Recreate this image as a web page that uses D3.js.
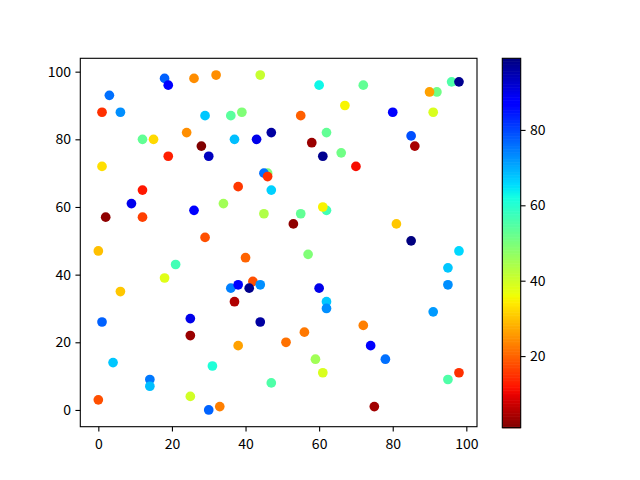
<!DOCTYPE html>
<html><head><meta charset="utf-8">
<script src="https://cdn.jsdelivr.net/npm/d3@7"></script>
<style>body{margin:0;background:#fff}svg text{font-family:"Noto Sans CJK SC","DejaVu Sans",sans-serif;font-size:14px;fill:#000}</style>
</head><body><svg id="c" width="640" height="480"></svg>
<script>
const xs = [18,19,26,32,3,6,1,29,24,12,15,19,28,30,1,12,9,2,12,26,29,
44,60,67,36,39,55,37,43,47,62,58,61,66,46,45,46,47,38,34,45,55,53,62,61,
72,96,98,92,90,80,91,85,86,70,81,85,
0,21,18,6,1,25,25,4,14,14,31,0,25,33,30,
40,57,42,36,38,41,44,37,44,60,62,62,56,51,38,59,61,47,
98,95,95,91,72,74,78,98,95,75];
const ys = [98,96,98,99,93,88,88,87,82,80,80,75,78,75,72,65,61,57,57,59,51,
99,96,90,87,88,87,80,80,82,82,79,75,76,70,70,69,65,66,61,58,58,55,59,60,
96,97,97,94,94,88,88,81,78,72,55,50,
47,43,39,35,26,27,22,14,9,7,13,3,4,1,0,
45,46,38,36,37,36,37,32,26,36,32,30,23,20,19,15,11,8,
47,42,37,29,25,19,15,11,9,1];
const cs = [77.4,87,24.4,24.6,76,73,14.8,67.6,24.6,53.1,32.3,13,1,93.6,33,12.2,89.7,2.3,16.4,87,18,
41,62.9,35.2,54,49.5,19.7,68.4,90,96.2,53,3.2,97.7,51.3,49.5,76,14.8,66.7,15.6,45.5,43.7,53,2.3,57,35,
53,55.3,97.7,51.3,26.5,87,38.9,79.2,4.4,11.1,30.5,99,
29.7,57,38,30.5,77.4,90,3.2,67.6,75.2,68.4,61,18,39.8,23,77.2,
20.1,49.5,18,74.5,87,98,73,5.1,96.2,90,67.6,73,22.3,21.5,26.5,45.5,38.9,55.3,
66,67.6,73,72,23,87,76,14.8,55.3,3.8];
const xTicks = [0,20,40,60,80,100];
const yTicks = [0,20,40,60,80,100];
const cTicks = [20,40,60,80];

// matplotlib jet, reversed
function seg(pts, t){for(let i=1;i<pts.length;i++){if(t<=pts[i][0]){const a=pts[i-1],b=pts[i];return a[1]+(b[1]-a[1])*(t-a[0])/(b[0]-a[0]);}}return pts[pts.length-1][1];}
const R=[[0,0],[0.35,0],[0.66,1],[0.89,1],[1,0.5]];
const G=[[0,0],[0.125,0],[0.375,1],[0.64,1],[0.91,0],[1,0]];
const B=[[0,0.5],[0.11,1],[0.34,1],[0.65,0],[1,0]];
function jetR(t){const s=1-Math.max(0,Math.min(1,t));return d3.rgb(255*seg(R,s),255*seg(G,s),255*seg(B,s)).toString();}

const svg=d3.select("#c");
const L=80.3,Rr=477,T=58.3,Bt=426.7;
const x=d3.scaleLinear().domain([-4.9,102.9]).range([L,Rr]);
const y=d3.scaleLinear().domain([-4.95,103.95]).range([Bt,T]);
const ext=d3.extent(cs);
const cn=d3.scaleLinear().domain(ext).range([0,1]);

const g=svg.append("g");
g.selectAll("circle").data(xs.map((v,i)=>({x:v,y:ys[i],c:cs[i]}))).join("circle")
 .attr("cx",d=>x(d.x)).attr("cy",d=>y(d.y)).attr("r",4.85)
 .attr("fill",d=>jetR(cn(d.c)));

svg.append("rect").attr("x",L).attr("y",T).attr("width",Rr-L).attr("height",Bt-T)
 .attr("fill","none").attr("stroke","#000").attr("stroke-width",1.1);

const xa=svg.append("g").attr("transform",`translate(0,${Bt})`)
 .call(d3.axisBottom(x).tickValues(xTicks).tickSize(4.86).tickPadding(4.5).tickFormat(d3.format("d")));
const ya=svg.append("g").attr("transform",`translate(${L},0)`)
 .call(d3.axisLeft(y).tickValues(yTicks).tickSize(4.86).tickPadding(4.5).tickFormat(d3.format("d")));
[xa,ya].forEach(a=>{a.select(".domain").remove();a.selectAll("line").attr("stroke-width",1.1);a.selectAll("text").attr("font-size",null);});
xa.selectAll("text").attr("dy","0.9em");

// colorbar
const cbL=502.3,cbR=520.7,cbT=58.3,cbB=427.7;
const cy=d3.scaleLinear().domain(ext).range([cbB,cbT]);
const steps=d3.range(0,256);
svg.append("g").selectAll("rect").data(steps).join("rect")
 .attr("x",cbL).attr("width",cbR-cbL)
 .attr("y",i=>cy(ext[0]+(ext[1]-ext[0])*(i+1)/256))
 .attr("height",(cbB-cbT)/256+0.6)
 .attr("fill",i=>jetR((i+0.5)/256));
svg.append("rect").attr("x",cbL).attr("y",cbT).attr("width",cbR-cbL).attr("height",cbB-cbT)
 .attr("fill","none").attr("stroke","#000").attr("stroke-width",1.1);
const ca=svg.append("g").attr("transform",`translate(${cbR},0)`)
 .call(d3.axisRight(cy).tickValues(cTicks).tickSize(4.86).tickPadding(4.5).tickFormat(d3.format("d")));
ca.select(".domain").remove();ca.selectAll("line").attr("stroke-width",1.1);ca.selectAll("text").attr("font-size",null);
</script></body></html>
